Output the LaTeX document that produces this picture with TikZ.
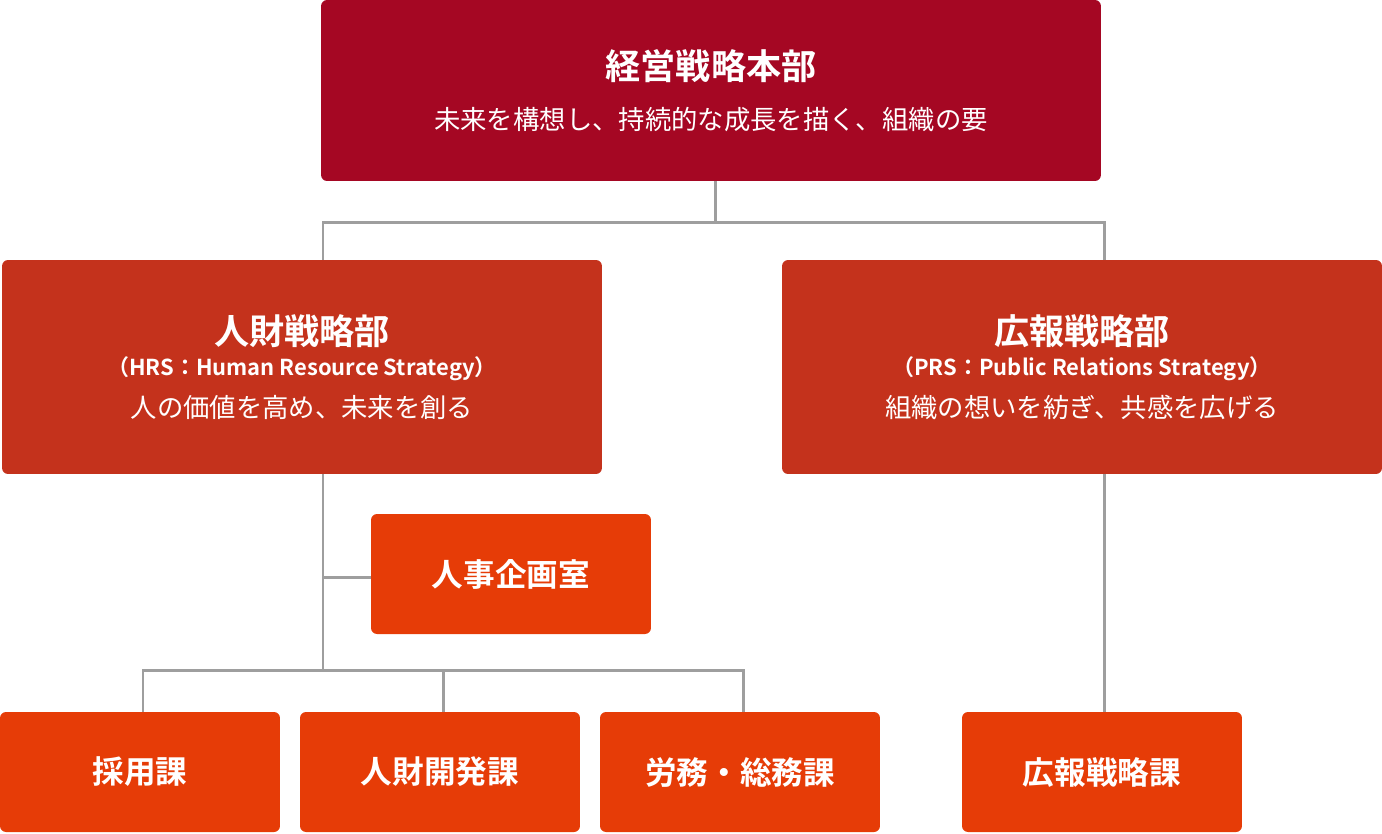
\documentclass[tikz,border=0pt]{standalone}
\usepackage{fontspec}
\setmainfont{Noto Sans CJK JP}
\newfontfamily\jpbold[FakeBold=0]{Noto Sans CJK JP Bold}
\usetikzlibrary{positioning}
\definecolor{hqred}{HTML}{A50723}
\definecolor{deptred}{HTML}{C4321C}
\definecolor{secorange}{HTML}{E63C07}
\definecolor{linegray}{HTML}{9E9E9E}
\tikzstyle{box} = [rounded corners=0.12cm, text=white, align=center, inner sep=0pt]
\tikzstyle{hq} = [box, fill=hqred, minimum width=15.6cm, minimum height=3.62cm]
\tikzstyle{dept} = [box, fill=deptred, minimum width=12cm, minimum height=4.28cm]
\tikzstyle{sect} = [box, fill=secorange, minimum width=5.6cm, minimum height=2.4cm, font=\fontsize{18}{20}\jpbold]
\tikzstyle{link} = [linegray, line width=1.7pt]
\begin{document}
\begin{tikzpicture}[x=0.02cm, y=-0.02cm]
    \useasboundingbox (0,0) rectangle (1382,833);
    % boxes
    \node (hq) [hq] at (711,90.5) {{\fontsize{20}{24}\jpbold 経営戦略本部}\\[0.45cm]
        {\fontsize{15}{18}\selectfont 未来を構想し、持続的な成長を描く、組織の要}};
    \node (hrs) [dept] at (302,367) {{\fontsize{20}{24}\jpbold 人財戦略部}\\[0.15cm]
        {\fontsize{12.5}{15}\jpbold （HRS：Human Resource Strategy）}\\[0.25cm]
        {\fontsize{15}{18}\selectfont 人の価値を高め、未来を創る}};
    \node (prs) [dept] at (1082,367) {{\fontsize{20}{24}\jpbold 広報戦略部}\\[0.15cm]
        {\fontsize{12.5}{15}\jpbold （PRS：Public Relations Strategy）}\\[0.25cm]
        {\fontsize{15}{18}\selectfont 組織の想いを紡ぎ、共感を広げる}};
    \node (plan) [sect] at (511,574) {人事企画室};
    \node (recruit) [sect] at (140,772) {採用課};
    \node (develop) [sect] at (440,772) {人財開発課};
    \node (labor) [sect] at (740,772) {労務・総務課};
    \node (prsect) [sect] at (1102,772) {広報戦略課};
    % connectors
    \coordinate (hqjoin) at (715,222);
    \draw [link] (hq.south -| hqjoin) -- (hqjoin);
    \draw [link] (hrs.north -| 323,0) -- (323,222) -- (1104,222) -- (prs.north -| 1104,0);
    \coordinate (hrsjoin) at (323,670);
    \draw [link] (hrs.south -| hrsjoin) -- (hrsjoin);
    \draw [link] (323,577) -- (plan.west |- 0,577);
    \draw [link] (recruit.north -| 143,0) -- (143,670) -- (743,670) -- (labor.north -| 743,0);
    \draw [link] (443,670) -- (develop.north -| 443,0);
    \draw [link] (prs.south -| 1104,0) -- (prsect.north -| 1104,0);
\end{tikzpicture}
\end{document}
